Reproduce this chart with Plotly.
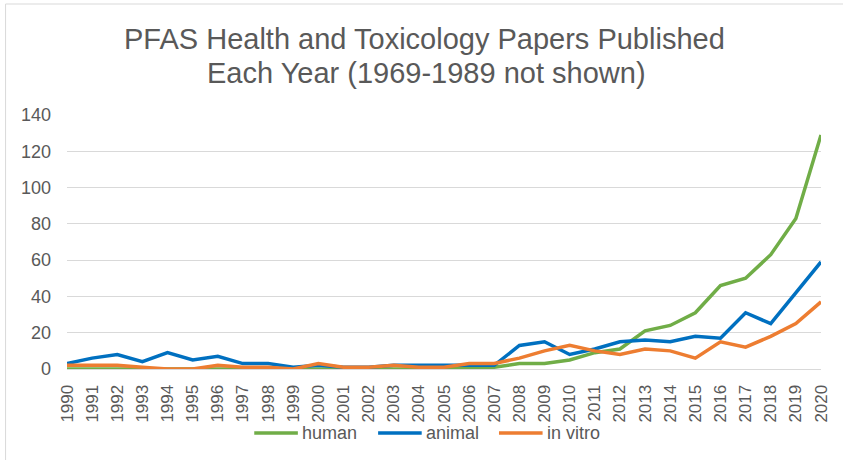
import plotly.graph_objects as go

years = list(range(1990, 2021))

human = [0, 0, 0, 0, 0, 0, 0, 0, 0, 0,
         0, 0, 0, 0, 0, 0, 1, 1, 3, 3,
         5, 9, 11, 21, 24, 31, 46, 50, 63, 83, 129]
animal = [3, 6, 8, 4, 9, 5, 7, 3, 3, 1,
          2, 1, 1, 2, 2, 2, 2, 2, 13, 15,
          8, 11, 15, 16, 15, 18, 17, 31, 25, 42, 59]
in_vitro = [2, 2, 2, 1, 0, 0, 2, 1, 1, 0,
            3, 1, 1, 2, 1, 1, 3, 3, 6, 10,
            13, 10, 8, 11, 10, 6, 15, 12, 18, 25, 37]

series = [
    ("human", human, "#70AD47"),
    ("animal", animal, "#0070C0"),
    ("in vitro", in_vitro, "#ED7D31"),
]

title_lines = ["PFAS Health and Toxicology Papers Published",
               "Each Year (1969-1989 not shown)"]

FONT = "Liberation Sans, Arial, sans-serif"
GREY = "#595959"

W, H = 843, 460
L, R, T, B = 67, 15, 115, 91
PW, PH = W - L - R, H - T - B


def px(x):
    return (x - L) / PW


def py(y):
    return (H - B - y) / PH


fig = go.Figure()
for name, vals, color in series:
    fig.add_trace(go.Scatter(
        x=years, y=vals, name=name, mode="lines",
        line=dict(color=color, width=3.5), showlegend=False,
    ))

fig.update_layout(
    width=W, height=H,
    margin=dict(l=L, r=R, t=T, b=B),
    paper_bgcolor="white", plot_bgcolor="white",
    font=dict(family=FONT, color=GREY),
    xaxis=dict(
        range=[1990, 2020], tickmode="array", tickvals=years,
        ticktext=[str(y) for y in years], tickangle=-90,
        tickfont=dict(size=17, color=GREY), showgrid=False,
        showline=True, linecolor="#D9D9D9", linewidth=1,
        ticks="", zeroline=False, ticklabelstandoff=8,
    ),
    yaxis=dict(
        range=[0, 140], dtick=20, tickfont=dict(size=18, color=GREY),
        showgrid=True, gridcolor="#D9D9D9", gridwidth=1,
        zeroline=False, ticks="", ticklabelstandoff=15,
    ),
    showlegend=False,
)

# two-line title
for text, cx, cy in zip(title_lines, [427.5, 429.5], [39, 73]):
    fig.add_annotation(text=text, xref="paper", yref="paper",
                       x=px(cx), y=py(cy), xanchor="center", yanchor="middle",
                       showarrow=False, font=dict(size=29, color=GREY, family=FONT))

# legend row below the axis
legend_x = [256, 381, 503]
for (name, _, color), lx in zip(series, legend_x):
    fig.add_shape(type="line", xref="paper", yref="paper",
                  x0=px(lx), x1=px(lx + 44), y0=py(433), y1=py(433),
                  line=dict(color=color, width=3.5))
    fig.add_annotation(text=name, xref="paper", yref="paper",
                       x=px(lx + 46), y=py(433), xanchor="left", yanchor="middle",
                       showarrow=False, font=dict(size=18, color=GREY, family=FONT))

# light frame around the chart area
fig.add_shape(type="rect", xref="paper", yref="paper",
              x0=px(5), x1=px(900), y0=py(520), y1=py(4),
              line=dict(color="#D9D9D9", width=1), layer="below")

fig.write_html("out.html")
